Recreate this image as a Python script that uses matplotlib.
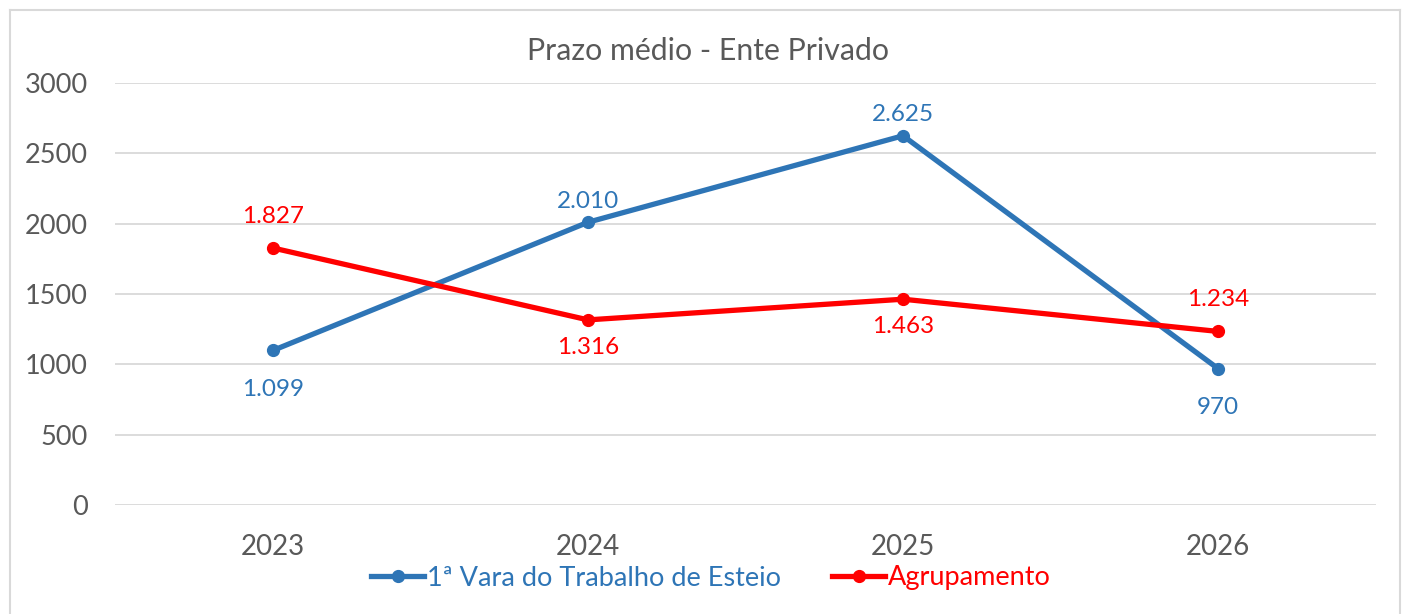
import matplotlib
matplotlib.use("Agg")
import matplotlib.pyplot as plt
from matplotlib.lines import Line2D

years = ["2023", "2024", "2025", "2026"]
vara = [1099, 2010, 2625, 970]
agrup = [1827, 1316, 1463, 1234]
vara_labels = ["1.099", "2.010", "2.625", "970"]
agrup_labels = ["1.827", "1.316", "1.463", "1.234"]
vara_pos = ["below", "above", "above", "below"]
agrup_pos = ["above", "below", "below", "above"]
yticks = [0, 500, 1000, 1500, 2000, 2500, 3000]
title = "Prazo médio - Ente Privado"
series_names = ["1ª Vara do Trabalho de Esteio", "Agrupamento"]

W, H = 1410, 614
plt.rcParams['font.family'] = ['Lato', 'DejaVu Sans']
fig = plt.figure(figsize=(W / 100, H / 100), dpi=100)
fig.patch.set_facecolor("white")

ax = fig.add_axes([115.5 / W, 1 - 505 / H, 1260 / W, 422 / H])
blue = "#2E75B6"
red = "#FF0000"
gray = "#595959"

x = list(range(len(years)))
ax.plot(x, vara, color=blue, lw=3.8, marker="o", ms=8.5, zorder=3,
        solid_capstyle="round")
ax.plot(x, agrup, color=red, lw=3.8, marker="o", ms=8.5, zorder=3,
        solid_capstyle="round")

for xi, v, lab, pos in zip(x, vara, vara_labels, vara_pos):
    off = 15 if pos == "above" else -28
    ax.annotate(lab, (xi, v), xytext=(0, off), textcoords="offset points",
                ha="center", va="center", color=blue, fontsize=17.5)
for xi, v, lab, pos in zip(x, agrup, agrup_labels, agrup_pos):
    off = 23 if pos == "above" else -20
    ax.annotate(lab, (xi, v), xytext=(0, off), textcoords="offset points",
                ha="center", va="center", color=red, fontsize=17.5)

ax.set_xlim(-0.5, len(years) - 0.5)
ax.set_ylim(0, 3000)
ax.set_yticks(yticks)
ax.set_yticklabels([str(t) for t in yticks])
ax.set_xticks(x)
ax.set_xticklabels(years)
ax.grid(axis="y", color="#D9D9D9", lw=1.3)
ax.set_axisbelow(True)
for s in ax.spines.values():
    s.set_visible(False)
ax.tick_params(axis="both", length=0, colors=gray)
ax.tick_params(axis="y", pad=20, labelsize=19.5)
ax.tick_params(axis="x", pad=21, labelsize=20)

fig.text(708 / W, 1 - 51 / H, title, ha="center", va="center",
         fontsize=21.8, color=gray)

handles = [Line2D([0], [0], color=blue, lw=3.8, marker="o", ms=8.5),
           Line2D([0], [0], color=red, lw=3.8, marker="o", ms=8.5)]
leg = fig.legend(handles, series_names, loc="center", bbox_to_anchor=(711 / W, 1 - 578 / H),
                 ncol=2, frameon=False, fontsize=19.5, handlelength=1.95,
                 handletextpad=0.1, columnspacing=1.9)
for t, c in zip(leg.get_texts(), [blue, red]):
    t.set_color(c)

# outer border
bc = "#D9D9D9"
fig.add_artist(Line2D([10 / W, 10 / W], [0, 1 - 10 / H], color=bc, lw=1.5, transform=fig.transFigure))
fig.add_artist(Line2D([10 / W, 1400 / W], [1 - 10 / H, 1 - 10 / H], color=bc, lw=1.5, transform=fig.transFigure))
fig.add_artist(Line2D([1400 / W, 1400 / W], [0, 1 - 10 / H], color=bc, lw=1.5, transform=fig.transFigure))

fig.savefig("out.png", dpi=100, facecolor="white")
